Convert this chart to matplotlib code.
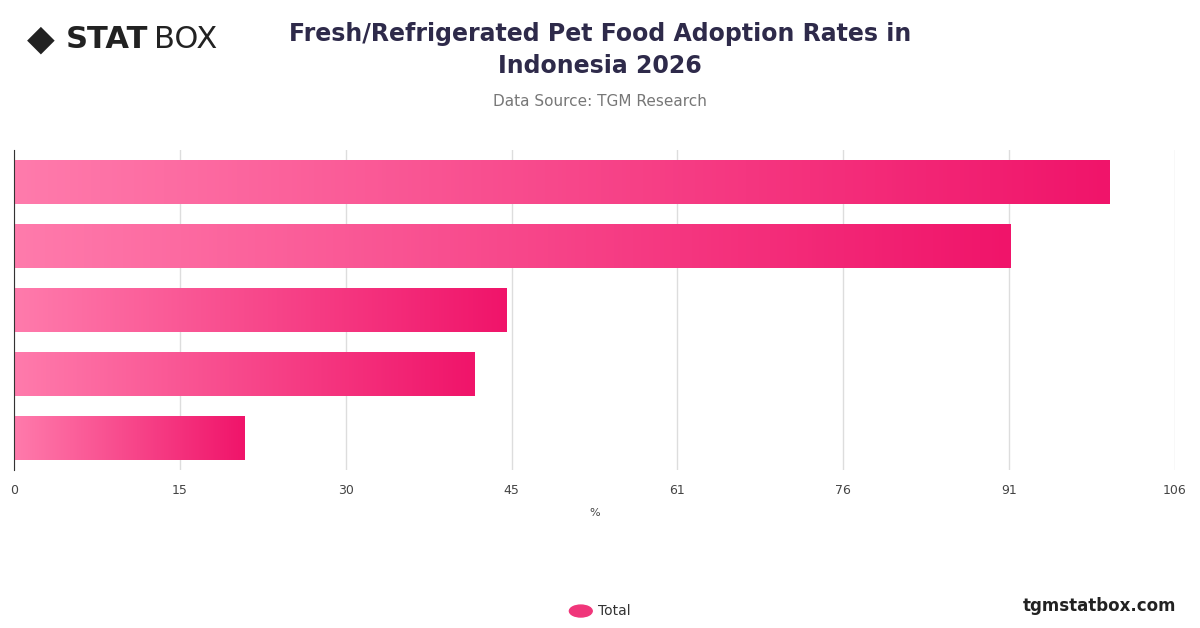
import matplotlib.pyplot as plt
import numpy as np
from matplotlib.patches import Circle

# data
categories = ["A", "B", "C", "D", "E"]
values = [100, 91, 45, 42, 21]
x_max = 106
tick_labels = ["0", "15", "30", "45", "61", "76", "91", "106"]

fig = plt.figure(figsize=(12, 6.28), dpi=100)
ax = fig.add_axes([0.0117, 0.252, 0.9675, 0.509])

# gradient light pink -> deep pink
grad = np.linspace(0, 1, 256).reshape(1, -1)
from matplotlib.colors import LinearSegmentedColormap
cmap = LinearSegmentedColormap.from_list("pink", ["#ff7bac", "#f0146a"])

n = len(values)
bar_h = 0.68
for i, v in enumerate(values):
    y = n - 1 - i
    ax.imshow(grad, cmap=cmap, aspect="auto", extent=[0, v, y - bar_h / 2, y + bar_h / 2], zorder=2)

ax.set_xlim(0, x_max)
ax.set_ylim(-0.5, n - 0.5)
ticks = np.linspace(0, x_max, len(tick_labels))
ax.set_xticks(ticks)
ax.set_xticklabels(tick_labels, fontsize=9, color="#444444")
ax.set_yticks([])
ax.grid(axis="x", color="#dddddd", linewidth=1, zorder=0)
ax.set_axisbelow(True)
for s in ["top", "right", "bottom"]:
    ax.spines[s].set_visible(False)
ax.spines["left"].set_color("#333333")
ax.tick_params(axis="x", length=0, pad=10)
ax.set_xlabel("%", fontsize=8, color="#444444", labelpad=8)

fig.text(0.5, 0.92, "Fresh/Refrigerated Pet Food Adoption Rates in\nIndonesia 2026",
         ha="center", va="center", fontsize=17, fontweight="bold", color="#2e2a4a", linespacing=1.4)
fig.text(0.5, 0.838, "Data Source: TGM Research", ha="center", va="center", fontsize=11, color="#777777")

fig.text(0.022, 0.937, "◆", fontsize=26, color="#222222", va="center")
fig.text(0.055, 0.937, "STAT", fontsize=22, fontweight="bold", color="#222222", va="center")
fig.text(0.128, 0.937, "BOX", fontsize=22, color="#222222", va="center")

fig.patches.append(Circle((0.484, 0.027), 0.0095, transform=fig.transFigure, color="#f0367a", figure=fig))
fig.text(0.498, 0.027, "Total", fontsize=10, color="#333333", va="center")
fig.text(0.98, 0.035, "tgmstatbox.com", fontsize=12, fontweight="bold", color="#222222", ha="right", va="center")

fig.savefig("out.png", dpi=100)
